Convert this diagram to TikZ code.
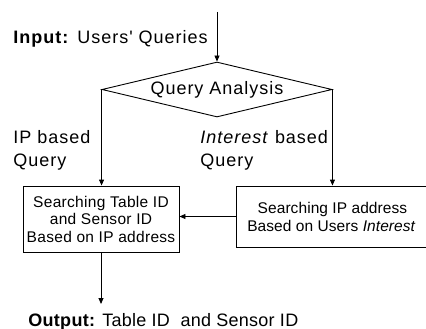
\documentclass[tikz,border=0pt]{standalone}
\usepackage{fontspec}
\setmainfont{Liberation Sans}
\newfontfamily\labfont[LetterSpace=5.5]{Liberation Sans}
\newfontfamily\outfont[LetterSpace=1.5]{Liberation Sans}
\newfontfamily\boxfont[LetterSpace=2]{Liberation Sans}
\newfontfamily\rboxfont[LetterSpace=0.5]{Liberation Sans}
\usetikzlibrary{shapes.geometric,arrows.meta}
\begin{document}
\begin{tikzpicture}[x=1pt,y=-1pt,
  line width=0.9pt,
  arr/.style={-{Triangle[length=6pt,width=5pt]}},
  lab/.style={inner sep=0pt,anchor=base west,font=\labfont\fontsize{18}{23}\selectfont},
  procbox/.style={draw,inner sep=0pt,align=center,font=\boxfont\fontsize{15.5}{17.5}\selectfont},
  decision/.style={draw,diamond,aspect=4.18,inner sep=0pt,minimum width=230pt,minimum height=55pt,font=\labfont\fontsize{18}{23}\selectfont}]
\useasboundingbox (0,0) rectangle (426,329);
\coordinate (start) at (217,12);
\node[decision] (qa) at (217,89.5) {Query Analysis};
\node[procbox,minimum width=156pt,minimum height=66pt] (left) at (101,219) {Searching Table ID\\and Sensor ID\\Based on IP address};
\node[procbox,minimum width=190pt,minimum height=61pt,anchor=west,font=\rboxfont\fontsize{15.5}{18}\selectfont,xshift=-1pt] (right) at (237,216.5) {\hspace*{2pt}Searching IP address\\Based on Users \textit{Interest}};
\coordinate (end) at (101,304);
\node[lab] (in) at (13,44) {\textbf{Input:} Users' Queries};
\node[lab] (ip1) at (13,143) {IP based};
\node[lab] (ip2) at (13,166) {Query};
\node[lab] (int1) at (200,143) {\textit{Interest} based};
\node[lab] (int2) at (200,166) {Query};
\node[lab,font=\outfont\fontsize{18}{23}\selectfont] (out) at (28,326) {\textbf{Output:} Table ID\ \ and Sensor ID};
\draw[arr] (start) -- (qa.north);
\draw[arr] (qa.west) -- (qa.west |- left.north);
\draw[arr] (qa.east) -- (qa.east |- right.north);
\draw[arr] (right.west) -- (right.west -| left.east);
\draw[arr] (left.south) -- (end);
\end{tikzpicture}
\end{document}
